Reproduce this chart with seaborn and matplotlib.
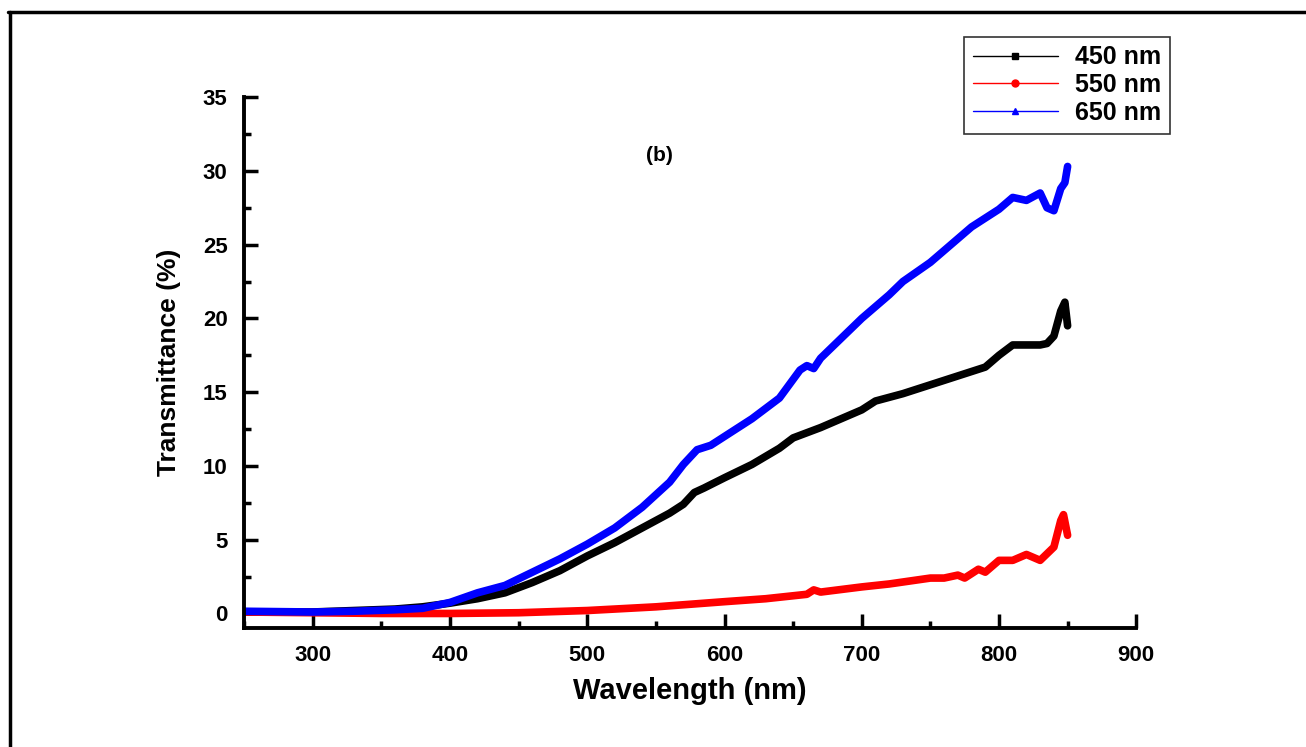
import numpy as np
import pandas as pd
import matplotlib
matplotlib.use("Agg")
import matplotlib.pyplot as plt
import seaborn as sns
from matplotlib.lines import Line2D
from matplotlib.ticker import MultipleLocator

# ---- data ----
wl_450 = [250, 300, 330, 360, 380, 400, 420, 440, 460, 480, 500, 520, 540, 560, 570, 578, 585, 600, 620, 640,
          650, 670, 700, 710, 730, 750, 770, 790, 800, 810, 820, 830, 835, 840, 845, 848, 850]
t_450 = [0.1, 0.1, 0.2, 0.3, 0.45, 0.7, 1.0, 1.4, 2.1, 2.9, 3.9, 4.8, 5.8, 6.8, 7.4, 8.2, 8.5, 9.2, 10.1, 11.2,
         11.9, 12.6, 13.8, 14.4, 14.9, 15.5, 16.1, 16.7, 17.5, 18.2, 18.2, 18.2, 18.3, 18.8, 20.5, 21.1, 19.5]

wl_550 = [250, 300, 350, 400, 450, 500, 550, 600, 630, 650, 660, 665, 670, 700, 720, 750, 760, 770,
          775, 785, 790, 800, 810, 820, 830, 840, 845, 847, 850]
t_550 = [0.1, 0.05, 0.0, 0.0, 0.05, 0.2, 0.45, 0.8, 1.0, 1.2, 1.3, 1.6, 1.45, 1.8, 2.0, 2.4, 2.4, 2.6,
         2.4, 3.0, 2.8, 3.6, 3.6, 4.0, 3.6, 4.5, 6.3, 6.7, 5.3]

wl_650 = [250, 300, 330, 360, 380, 400, 420, 440, 460, 480, 500, 520, 540, 560, 570, 580, 590, 600, 620, 640,
          655, 660, 665, 670, 700, 720, 730, 750, 770, 780, 800, 810, 820, 830, 835, 840, 845, 848, 850]
t_650 = [0.15, 0.1, 0.15, 0.25, 0.35, 0.75, 1.4, 1.9, 2.8, 3.7, 4.7, 5.8, 7.2, 8.9, 10.1, 11.1, 11.4, 12.0, 13.2, 14.6,
         16.5, 16.8, 16.6, 17.3, 20.0, 21.6, 22.5, 23.8, 25.4, 26.2, 27.4, 28.2, 28.0, 28.5, 27.5, 27.3, 28.8, 29.2, 30.3]

labels = ["450 nm", "550 nm", "650 nm"]
colors = ["#000000", "#ff0000", "#0000ff"]
markers = ["s", "o", "^"]

df = pd.concat([
    pd.DataFrame({"Wavelength": wl_450, "T": t_450, "Sample": labels[0]}),
    pd.DataFrame({"Wavelength": wl_550, "T": t_550, "Sample": labels[1]}),
    pd.DataFrame({"Wavelength": wl_650, "T": t_650, "Sample": labels[2]}),
])

sns.set_theme(style="white")
plt.rcParams["font.family"] = ["Liberation Sans", "DejaVu Sans"]
plt.rcParams["text.color"] = "black"
plt.rcParams["axes.labelcolor"] = "black"
plt.rcParams["xtick.color"] = "black"
plt.rcParams["ytick.color"] = "black"

fig = plt.figure(figsize=(13.06, 7.47), dpi=100)
ax = fig.add_axes([0.187, 0.159, 0.683, 0.711])

sns.lineplot(data=df, x="Wavelength", y="T", hue="Sample", palette=colors,
             linewidth=5.5, legend=False, ax=ax, estimator=None, sort=True)

ax.set_xlim(250, 900)
ax.set_ylim(-1, 35)
ax.xaxis.set_minor_locator(MultipleLocator(50))
ax.yaxis.set_major_locator(MultipleLocator(5))
ax.yaxis.set_minor_locator(MultipleLocator(2.5))
ax.set_xticks([300, 400, 500, 600, 700, 800, 900])
ax.tick_params(axis="both", which="major", direction="in", length=10, width=2.5,
               labelsize=16, pad=12, bottom=True, left=True, colors="black")
ax.tick_params(axis="both", which="minor", direction="in", length=5, width=2.5,
               bottom=True, left=True, colors="black")
for lab in ax.get_xticklabels() + ax.get_yticklabels():
    lab.set_fontweight("bold")

for s in ["top", "right"]:
    ax.spines[s].set_visible(False)
for s in ["left", "bottom"]:
    ax.spines[s].set_linewidth(2.8)
    ax.spines[s].set_color("black")

ax.set_xlabel("Wavelength (nm)", fontsize=21, fontweight="bold", labelpad=8, color="black")
ax.set_ylabel("Transmittance (%)", fontsize=19, fontweight="bold", labelpad=16, color="black")
ax.text(0.465, 0.88, "(b)", transform=ax.transAxes, fontsize=15, fontweight="bold",
        ha="center", color="black")

handles = [Line2D([0], [0], color=c, lw=1, marker=m, markersize=5) for c, m in zip(colors, markers)]
leg = fig.legend(handles, labels, loc="upper left", bbox_to_anchor=(0.738, 0.951),
                 frameon=True, fancybox=False, edgecolor="black",
                 prop={"weight": "bold", "size": 18}, handlelength=3.4, labelspacing=0.15,
                 borderpad=0.35, handletextpad=0.7, borderaxespad=0)
leg.get_frame().set_linewidth(1.2)
for t in leg.get_texts():
    t.set_color("black")

# outer frame lines (top and left) of the figure
fig.add_artist(Line2D([8 / 1306, 1.0], [1 - 12 / 747, 1 - 12 / 747], color="black", lw=2.5,
                      transform=fig.transFigure))
fig.add_artist(Line2D([10 / 1306, 10 / 1306], [0, 1 - 12 / 747], color="black", lw=2.5,
                      transform=fig.transFigure))

fig.savefig("out.png", dpi=100)
